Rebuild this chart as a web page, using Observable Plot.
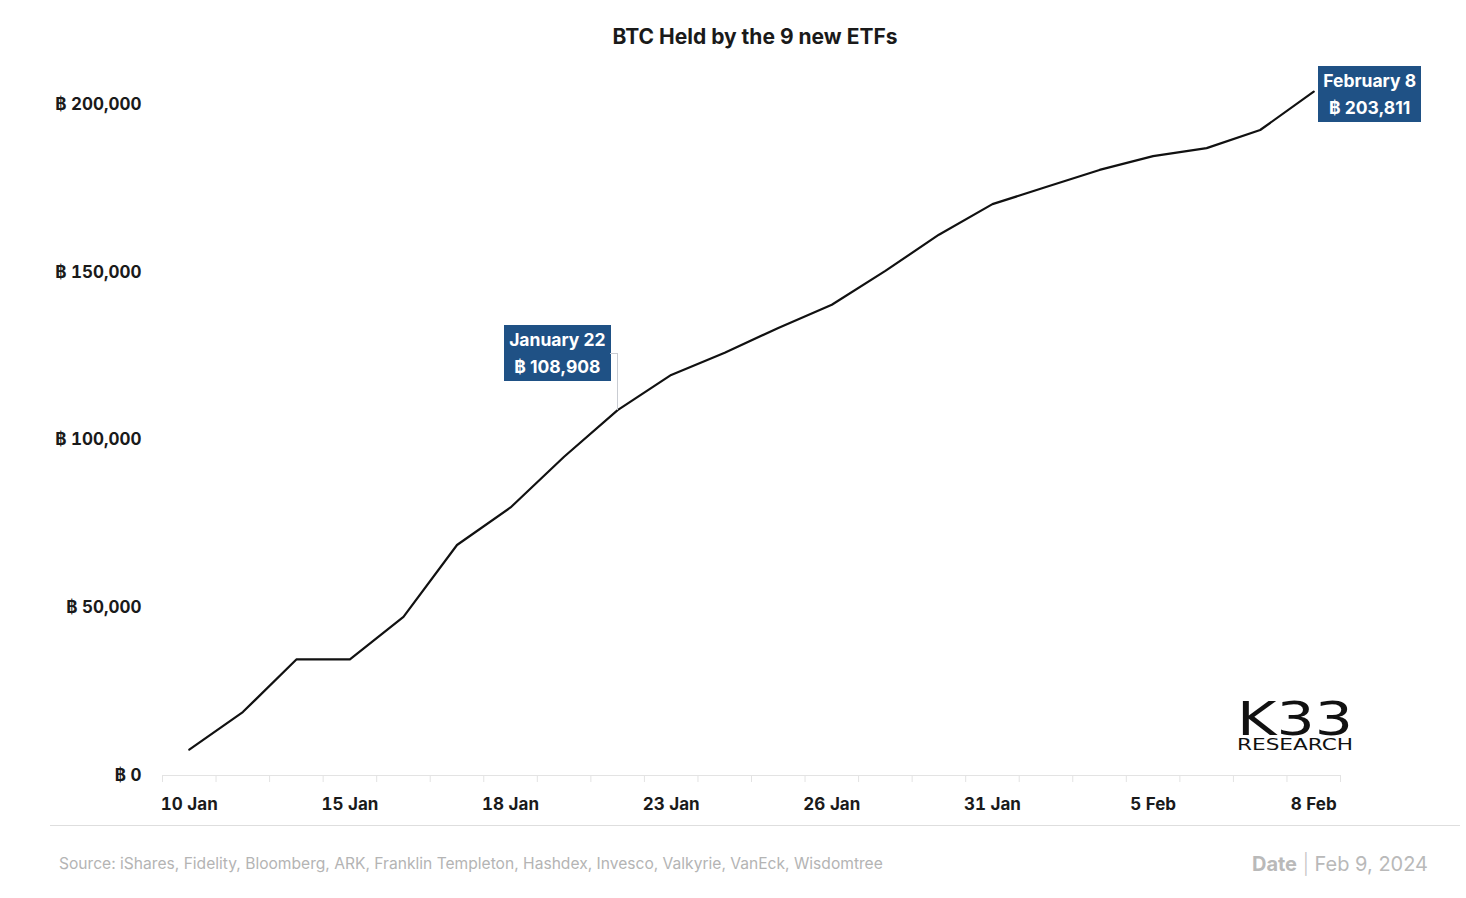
<!DOCTYPE html>
<html>
<head>
<meta charset="utf-8">
<script src="https://cdn.jsdelivr.net/npm/d3@7"></script>
<script src="https://cdn.jsdelivr.net/npm/@observablehq/plot@0.6"></script>
<style>
  body { margin: 0; background: #fff; font-family: Inter, "Noto Sans", sans-serif; }
  #wrap { position: relative; width: 1466px; height: 898px; overflow: hidden; background: #fff; }
  #chart { position: absolute; left: 0; top: 0; }
  .title { position: absolute; left: 405px; width: 700px; top: 23px; text-align: center;
           font-weight: 700; font-size: 21px; line-height: 27px; color: #1a1a1a; }
  .ann { position: absolute; background: #1f5185; color: #fff; font-weight: 700; font-size: 17.5px;
         line-height: 27px; padding: 1px 5px; text-align: center; white-space: nowrap; }
  .conn { position: absolute; background: #c9ccd2; }
  .sep { position: absolute; left: 50px; top: 825px; width: 1410px; height: 1px; background: #dedede; }
  .source { position: absolute; left: 59px; top: 855px; font-size: 15.6px; line-height: 18px; color: #b4b4b4; white-space: nowrap; }
  .date { position: absolute; right: 38px; top: 852px; font-size: 20px; line-height: 24px; color: #b9b9b9; white-space: nowrap; }
  .date b { font-weight: 700; }
  .date span { font-weight: 300; color: #c4c4c4; }
  .logo { position: absolute; left: 1236px; top: 694px; }
</style>
</head>
<body>
<div id="wrap">
  <div class="title">BTC Held by the 9 new ETFs</div>
</div>
<script>
// ---- data ----
const dates = ["10 Jan","11 Jan","12 Jan","15 Jan","16 Jan","17 Jan","18 Jan","19 Jan","22 Jan","23 Jan","24 Jan",
               "25 Jan","26 Jan","29 Jan","30 Jan","31 Jan","1 Feb","2 Feb","5 Feb","6 Feb","7 Feb","8 Feb"];
const btcHeld = [7700, 18900, 34600, 34600, 47300, 68700, 79900, 95000, 108908, 119400, 126000,
                 133400, 140300, 150400, 161200, 170300, 175400, 180500, 184600, 187000, 192400, 203811];
const yTicks = [0, 50000, 100000, 150000, 200000];
const xLabelEvery = 3;
const annotationIndex = [8, 21];
const annotationLabel = ["January 22", "February 8"];
const sourceText = "Source:  iShares, Fidelity, Bloomberg, ARK, Franklin Templeton, Hashdex, Invesco, Valkyrie, VanEck, Wisdomtree";

const rows = dates.map((d, i) => ({i, date: d, btc: btcHeld[i]}));
const fmt = d3.format(",");
const btcFmt = v => "฿ " + fmt(v);

const chart = Plot.plot({
  width: 1466,
  height: 898,
  marginLeft: 162,
  marginRight: 126,
  marginTop: 70,
  marginBottom: 123,
  x: {domain: [-0.5, dates.length - 0.5], label: null},
  y: {domain: [0, 200000], range: [775, 104], label: null},
  style: {fontFamily: "Inter, 'Noto Sans', sans-serif", background: "transparent", overflow: "visible"},
  marks: [
    Plot.ruleY([0], {stroke: "#e3e3e3", strokeWidth: 1}),
    Plot.axisX(d3.range(-0.5, dates.length, 1), {tickSize: 7, tickFormat: () => "", stroke: "#e3e3e3", label: null}),
    Plot.axisX(d3.range(0, dates.length, xLabelEvery), {
      tickSize: 0, tickPadding: 22, tickFormat: i => dates[i], label: null,
      fontSize: 17, fontWeight: 700, fill: "#1a1a1a"
    }),
    Plot.axisY(yTicks, {
      tickSize: 0, tickPadding: 21, tickFormat: btcFmt, label: null,
      fontSize: 17, fontWeight: 700, fill: "#1a1a1a"
    }),
    Plot.line(rows, {x: "i", y: "btc", stroke: "#111", strokeWidth: 2.2, curve: "linear"})
  ]
});
chart.id = "chart";
const wrap = document.getElementById("wrap");
wrap.appendChild(chart);

// ---- annotations positioned via the plot's scales ----
const xs = chart.scale("x"), ys = chart.scale("y");
annotationIndex.forEach((idx, k) => {
  const px = xs.apply(idx), py = ys.apply(btcHeld[idx]);
  const box = document.createElement("div");
  box.className = "ann";
  box.innerHTML = annotationLabel[k] + "<br>" + btcFmt(btcHeld[idx]);
  wrap.appendChild(box);
  if (k === 0) {
    const w = box.offsetWidth;
    box.style.left = (px - 7 - w) + "px";
    box.style.top = (py - 85) + "px";
    const h = document.createElement("div");
    h.className = "conn";
    h.style.left = (px - 7) + "px"; h.style.top = (py - 57) + "px";
    h.style.width = "7px"; h.style.height = "1px";
    const v = document.createElement("div");
    v.className = "conn";
    v.style.left = px + "px"; v.style.top = (py - 57) + "px";
    v.style.width = "1px"; v.style.height = "57px";
    wrap.appendChild(h); wrap.appendChild(v);
  } else {
    box.style.left = (px + 5) + "px";
    box.style.top = (py - 25) + "px";
  }
});

// ---- footer & logo ----
const sep = document.createElement("div"); sep.className = "sep"; wrap.appendChild(sep);
const src = document.createElement("div"); src.className = "source"; src.textContent = sourceText; wrap.appendChild(src);
const dt = document.createElement("div"); dt.className = "date"; dt.innerHTML = "<b>Date</b> <span>|</span> Feb 9, 2024"; wrap.appendChild(dt);
const logo = document.createElement("div"); logo.className = "logo";
logo.innerHTML = `<svg width="122" height="64" style="overflow:visible" xmlns="http://www.w3.org/2000/svg">
  <text x="1" y="41" font-family="DejaVu Sans" font-size="47" fill="#111" textLength="116" lengthAdjust="spacingAndGlyphs">K33</text>
  <text x="1" y="56" font-family="DejaVu Sans" font-size="16" fill="#111" textLength="116" lengthAdjust="spacingAndGlyphs">RESEARCH</text>
</svg>`;
wrap.appendChild(logo);
</script>
</body>
</html>
